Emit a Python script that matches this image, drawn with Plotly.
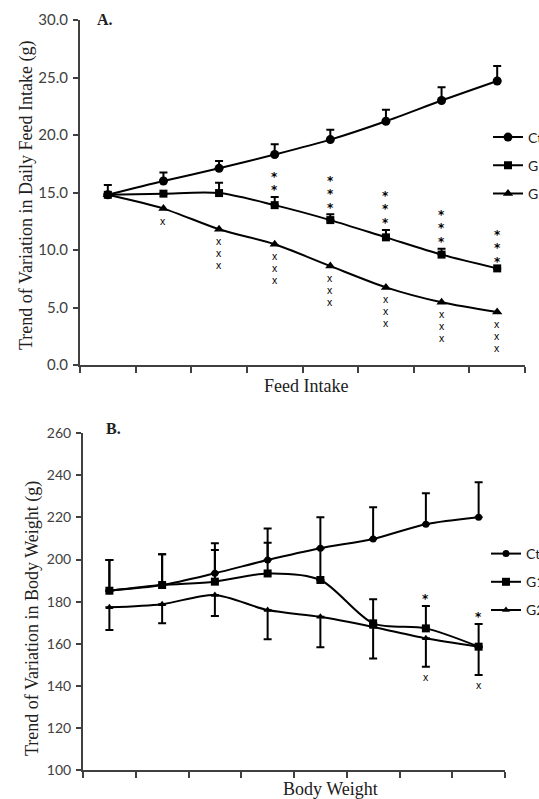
import plotly.graph_objects as go

W, H = 539, 799

# ---------------- data ----------------
periods = list(range(8))
series_names = ["Ctrl", "G1", "G2"]

# Panel A: daily feed intake (g)
ctrl_fi = [14.8, 16.0, 17.1, 18.3, 19.6, 21.2, 23.0, 24.7]
ctrl_fi_err = [0.85, 0.75, 0.65, 0.9, 0.85, 1.0, 1.15, 1.3]
g1_fi = [14.8, 14.9, 14.95, 13.9, 12.6, 11.1, 9.6, 8.4]
g1_fi_err = [0.0, 0.0, 0.9, 0.7, 0.5, 0.65, 0.5, 0.0]
g2_fi = [14.8, 13.6, 11.8, 10.5, 8.6, 6.75, 5.45, 4.6]
g1_fi_stars = [0, 0, 0, 2, 3, 3, 3, 3]
g2_fi_x = [0, 1, 3, 3, 3, 3, 3, 3]

# Panel B: body weight (g)
ctrl_bw = [185.2, 187.9, 193.5, 199.8, 205.4, 209.8, 216.8, 220.1]
ctrl_bw_err = [14.6, 14.6, 14.2, 15.0, 14.7, 15.0, 14.7, 16.6]
g1_bw = [185.2, 187.9, 189.5, 193.4, 190.3, 169.7, 167.3, 158.6]
g1_bw_err = [14.6, 14.6, 15.1, 14.6, 15.0, 11.4, 10.6, 10.8]
g2_bw = [177.3, 178.8, 183.2, 176.0, 172.8, 168.0, 162.6, 158.6]
g2_bw_err = [10.8, 9.1, 10.0, 13.9, 14.5, 15.0, 13.5, 13.4]
g1_bw_stars = [0, 0, 0, 0, 0, 0, 1, 1]
g2_bw_x = [0, 0, 0, 0, 0, 0, 1, 1]

# ---------------- layout helpers ----------------
def px_x(px):
    return px / W

def px_y(py):
    return 1 - py / H

AX = "#404040"
TICKFONT = dict(family="Lato, Liberation Sans, sans-serif", size=15, color=AX)
TITLEFONT = dict(family="Liberation Serif, serif", size=18, color="#202020")
zeros = [0] * 8

fig = go.Figure()

def add_series(x, y, err_plus, err_minus, name, symbol, msize, xa, ya, legend, lw=2):
    fig.add_trace(go.Scatter(
        x=x, y=y, name=name, mode="lines+markers",
        line=dict(color="black", width=lw, shape="spline", smoothing=0.8),
        marker=dict(symbol=symbol, size=msize, color="black"),
        error_y=dict(type="data", symmetric=False,
                     array=err_plus if err_plus else zeros,
                     arrayminus=err_minus if err_minus else zeros,
                     visible=bool(err_plus or err_minus),
                     color="black", thickness=2, width=4),
        xaxis=xa, yaxis=ya, legend=legend, legendgroup=legend + name,
        hoverinfo="skip",
    ))

# Panel A
add_series(periods, ctrl_fi, ctrl_fi_err, None, series_names[0], "circle", 9, "x", "y", "legend")
add_series(periods, g1_fi, g1_fi_err, None, series_names[1], "square", 8, "x", "y", "legend")
add_series(periods, g2_fi, None, None, series_names[2], "triangle-up", 9, "x", "y", "legend")
# Panel B
add_series(periods, ctrl_bw, ctrl_bw_err, None, series_names[0], "circle", 7, "x2", "y2", "legend2")
add_series(periods, g1_bw, g1_bw_err, None, series_names[1], "square", 8, "x2", "y2", "legend2")
add_series(periods, g2_bw, None, g2_bw_err, series_names[2], "triangle-up", 7, "x2", "y2", "legend2")

annotations = []

def marks(xs, base, counts, char, line_fs, glyph_fs, family, xref, yref, first, up, bold=False):
    # one stacked text per point: lines spaced by line_fs*1.3, glyphs drawn at glyph_fs
    step = 1.3 * line_fs
    for i, n in enumerate(counts):
        if n == 0:
            continue
        centre = first + (n - 1) * step / 2
        g = "<b>%s</b>" % char if bold else char
        glyph = "<span style='font-size:%gpx'>%s</span>" % (glyph_fs, g)
        annotations.append(dict(
            x=xs[i], y=base[i], xref=xref, yref=yref, text="<br>".join([glyph] * n),
            showarrow=False, yanchor="middle", xanchor="center", borderpad=0,
            yshift=centre if up else -centre,
            font=dict(family=family, size=line_fs, color="black")))

STAR_FAMILY = "DejaVu Sans, sans-serif"
X_FAMILY = "Liberation Sans, sans-serif"
# Panel A significance marks
g1_top_fi = [v + e for v, e in zip(g1_fi, g1_fi_err)]
marks(periods, g1_top_fi, g1_fi_stars, "*", 10.2, 12, STAR_FAMILY, "x", "y", 7, True, bold=True)
marks(periods, g2_fi, g2_fi_x, "x", 9.2, 10.5, X_FAMILY, "x", "y", 12, False)
# Panel B significance marks
g1_top_bw = [v + e for v, e in zip(g1_bw, g1_bw_err)]
g2_bot_bw = [v - e for v, e in zip(g2_bw, g2_bw_err)]
marks(periods, g1_top_bw, g1_bw_stars, "*", 10.2, 12, STAR_FAMILY, "x2", "y2", 7, True, bold=True)
marks(periods, g2_bot_bw, g2_bw_x, "x", 9.2, 10.5, X_FAMILY, "x2", "y2", 10, False)

# panel letters
annotations.append(dict(x=px_x(95), y=px_y(19), xref="paper", yref="paper", text="<b>A.</b>",
                        showarrow=False, xanchor="left", yanchor="middle",
                        font=dict(family="Liberation Serif, serif", size=16, color="#202020")))
annotations.append(dict(x=px_x(104), y=px_y(428), xref="paper", yref="paper", text="<b>B.</b>",
                        showarrow=False, xanchor="left", yanchor="middle",
                        font=dict(family="Liberation Serif, serif", size=16, color="#202020")))
# axis titles
annotations.append(dict(x=px_x(26), y=px_y(196), xref="paper", yref="paper",
                        text="Trend of Variation in Daily Feed Intake (g)", textangle=-90,
                        showarrow=False, xanchor="center", yanchor="middle", font=TITLEFONT))
annotations.append(dict(x=px_x(306), y=px_y(386), xref="paper", yref="paper",
                        text="Feed Intake", showarrow=False, xanchor="center", yanchor="middle",
                        font=TITLEFONT))
annotations.append(dict(x=px_x(32), y=px_y(619), xref="paper", yref="paper",
                        text="Trend of Variation in Body Weight (g)", textangle=-90,
                        showarrow=False, xanchor="center", yanchor="middle", font=TITLEFONT))
annotations.append(dict(x=px_x(330), y=px_y(789), xref="paper", yref="paper",
                        text="Body Weight", showarrow=False, xanchor="center", yanchor="middle",
                        font=TITLEFONT))

xcommon = dict(range=[-0.5, 7.5], tickmode="array", tickvals=[i - 0.5 for i in range(9)],
               showticklabels=False, ticks="outside", ticklen=6, tickwidth=1.5, tickcolor=AX,
               showline=True, linecolor=AX, linewidth=2, showgrid=False, zeroline=False,
               fixedrange=True)
ycommon = dict(ticks="outside", ticklen=5, tickwidth=1.5, tickcolor=AX, showline=True,
               linecolor=AX, linewidth=2, showgrid=False, zeroline=False,
               ticklabelstandoff=2, fixedrange=True)

legend_common = dict(font=dict(family="Lato, Liberation Sans, sans-serif", size=14, color="#202020"),
                     bgcolor="rgba(0,0,0,0)", itemwidth=30, traceorder="grouped",
                     tracegroupgap=7, xanchor="left", yanchor="top", itemclick=False,
                     itemdoubleclick=False)

fig.update_layout(
    width=W, height=H, margin=dict(l=0, r=0, t=0, b=0, autoexpand=False),
    paper_bgcolor="white", plot_bgcolor="white",
    showlegend=True, hovermode=False,
    xaxis=dict(domain=[px_x(80), px_x(525)], anchor="y", **xcommon),
    yaxis=dict(domain=[px_y(365), px_y(20)], anchor="x", range=[0, 30], dtick=5,
               tickformat=".1f", tickfont=TICKFONT, **ycommon),
    xaxis2=dict(domain=[px_x(83), px_x(505)], anchor="y2", **xcommon),
    yaxis2=dict(domain=[px_y(770), px_y(433.3)], anchor="x2", range=[100, 260], dtick=20,
                tickfont=dict(TICKFONT, size=14), **ycommon),
    legend=dict(x=px_x(488), y=px_y(121.5), **legend_common),
    legend2=dict(x=px_x(486), y=px_y(538), **legend_common),
    annotations=annotations,
)

fig.write_html("out.html", config={"displayModeBar": False, "staticPlot": False},
               post_script="document.body.style.margin='0px';document.body.style.overflow='hidden';")
